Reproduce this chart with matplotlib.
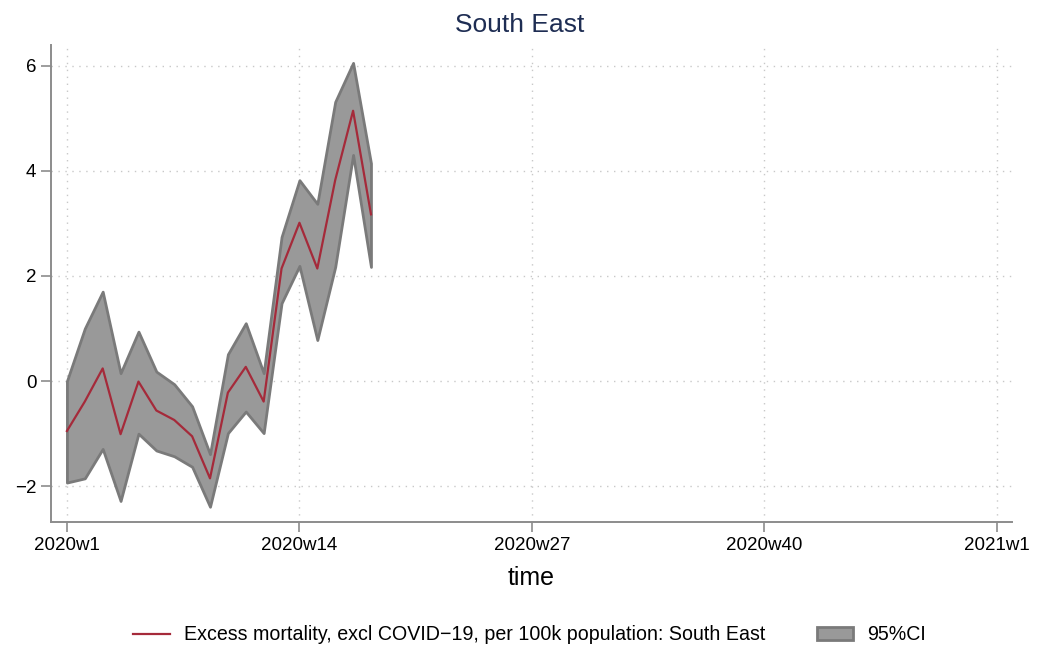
import matplotlib
matplotlib.use("Agg")
import matplotlib.pyplot as plt
from matplotlib.lines import Line2D
from matplotlib.patches import Patch

plt.rcParams['font.family'] = ['Liberation Sans', 'DejaVu Sans']

# weeks since 2020w1 (Stata weekly: 52 weeks per year)
weeks = list(range(18))
excess = [-0.95, -0.39, 0.24, -1.01, -0.01, -0.56, -0.74, -1.05, -1.85,
          -0.22, 0.27, -0.39, 2.14, 3.01, 2.14, 3.82, 5.14, 3.17]
ci_upper = [0.00, 1.00, 1.70, 0.15, 0.94, 0.18, -0.06, -0.48, -1.39,
            0.51, 1.10, 0.15, 2.74, 3.82, 3.37, 5.31, 6.05, 4.14]
ci_lower = [-1.93, -1.85, -1.29, -2.28, -1.00, -1.32, -1.43, -1.63, -2.39,
            -0.99, -0.58, -0.99, 1.48, 2.19, 0.78, 2.17, 4.30, 2.17]

xtick_pos = [0, 13, 26, 39, 52]
xtick_labels = ['2020w1', '2020w14', '2020w27', '2020w40', '2021w1']
ytick_pos = [-2, 0, 2, 4, 6]

line_color = '#a52a3a'
fill_color = '#999999'
edge_color = '#7a7a7a'
axis_color = '#8c8c8c'

fig = plt.figure(figsize=(10.39, 6.5), dpi=100)
ax = fig.add_axes([51 / 1039, 1 - 522 / 650, (1012 - 51) / 1039, (522 - 45) / 650])

ax.fill_between(weeks, ci_lower, ci_upper, facecolor=fill_color,
                edgecolor=edge_color, linewidth=2, zorder=2)
ax.plot(weeks, excess, color=line_color, linewidth=1.6, zorder=3)

ax.set_xlim(-0.89, 52.84)
ax.set_ylim(-2.68, 6.39)
ax.set_xticks(xtick_pos)
ax.set_xticklabels(xtick_labels)
ax.set_yticks(ytick_pos)
ax.set_yticklabels(['\u22122', '0', '2', '4', '6'])

ax.grid(True, color='#c8c8c8', linestyle=(0, (1, 4)), linewidth=1.0, zorder=1)
for s in ['top', 'right']:
    ax.spines[s].set_visible(False)
for s in ['left', 'bottom']:
    ax.spines[s].set_color(axis_color)
    ax.spines[s].set_linewidth(1.4)
ax.tick_params(axis='both', direction='out', length=7, width=1.2,
               color=axis_color, labelsize=13.5, pad=3.5)

ax.set_xlabel('time', fontsize=18, labelpad=9)
fig.text(0.5, 1 - 25 / 650, 'South East', ha='center', va='center',
         fontsize=19, color='#1e2d53')

handles = [
    Line2D([0], [0], color=line_color, linewidth=1.6),
    Patch(facecolor=fill_color, edgecolor=edge_color, linewidth=2),
]
labels = ['Excess mortality, excl COVID\u221219, per 100k population: South East', '95%CI']
fig.legend(handles, labels, loc='center', bbox_to_anchor=(0.51, 1 - 635 / 650),
           ncol=2, frameon=False, fontsize=14.1, handlelength=1.85,
           handleheight=0.68, handletextpad=0.75, columnspacing=2.6)

fig.savefig('out.png', dpi=100)
